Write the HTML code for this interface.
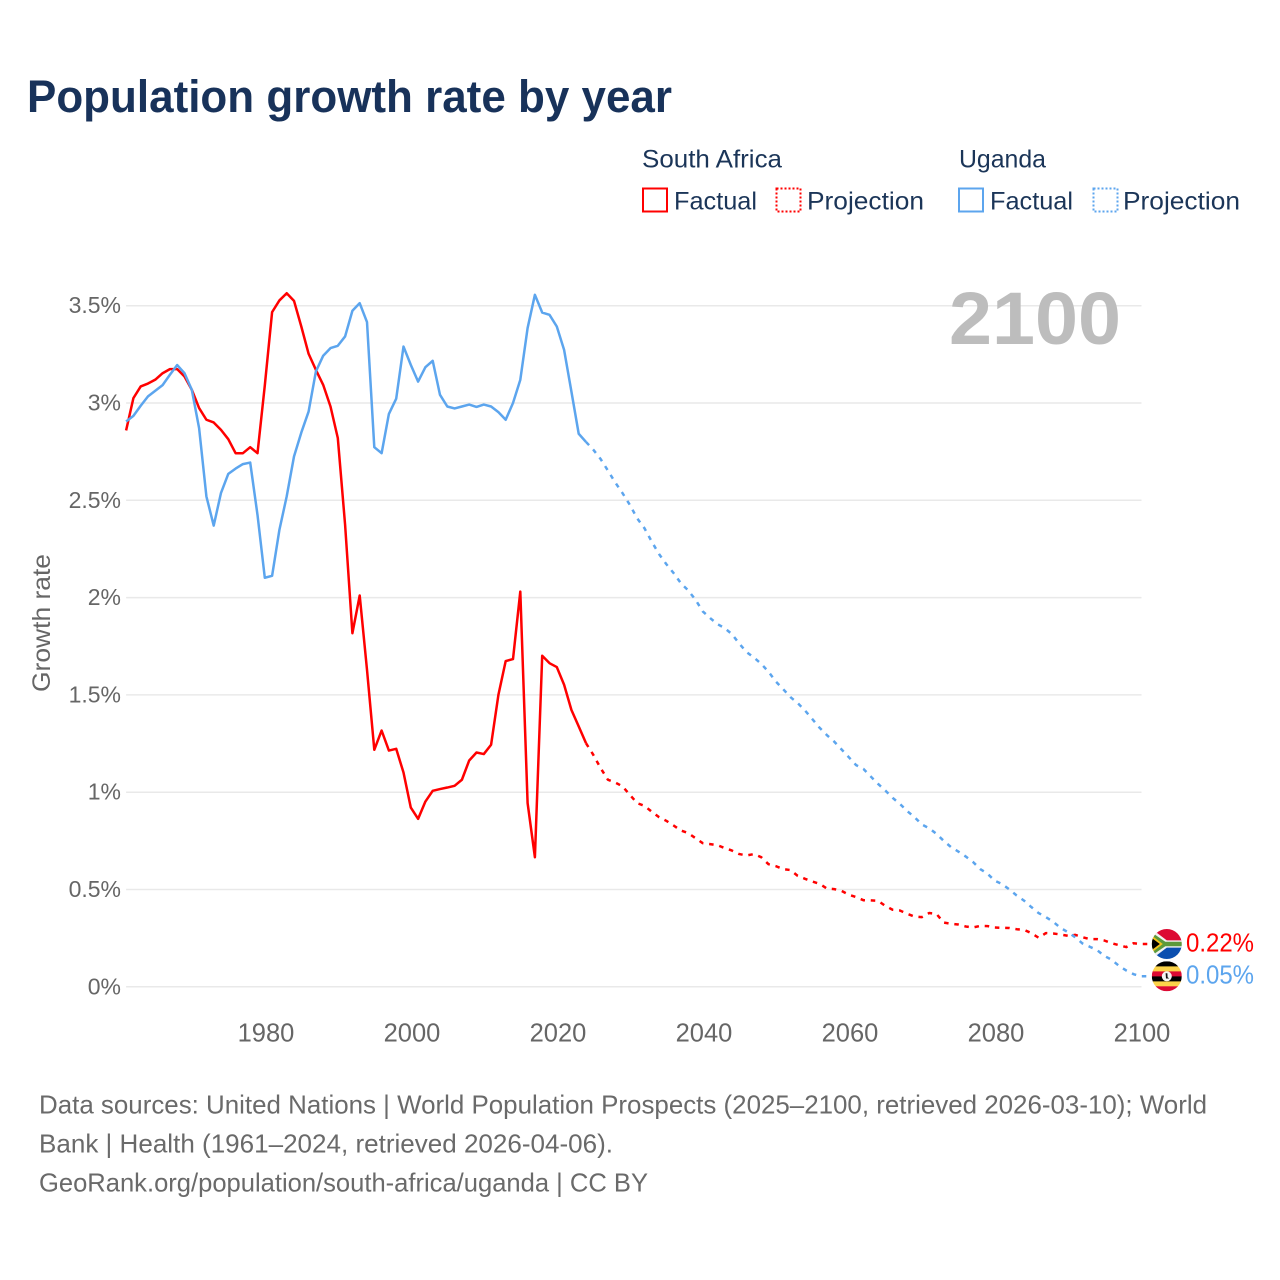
<!DOCTYPE html>
<html lang="en">
<head>
<meta charset="utf-8">
<title>Population growth rate by year</title>
<style>
html,body{margin:0;padding:0;background:#fff;width:1280px;height:1280px;overflow:hidden}
svg{display:block}
text{font-family:"Liberation Sans",sans-serif}
</style>
</head>
<body>
<svg id="chart" xmlns="http://www.w3.org/2000/svg" width="1280" height="1280" viewBox="0 0 1280 1280">
  <defs>
    <clipPath id="clip-sa"><circle cx="0" cy="0" r="15"/></clipPath>
    <clipPath id="clip-ug"><circle cx="0" cy="0" r="15"/></clipPath>
  </defs>

  <text x="27" y="112" font-size="45" font-weight="700" fill="#18325a" textLength="645" lengthAdjust="spacingAndGlyphs">Population growth rate by year</text>

  <g font-size="25" fill="#1b3558">
    <text x="642" y="167.5" textLength="140" lengthAdjust="spacingAndGlyphs">South Africa</text>
    <text x="959" y="167.5" textLength="87" lengthAdjust="spacingAndGlyphs">Uganda</text>
    <rect x="643" y="188.5" width="24" height="23" fill="none" stroke="#ff0000" stroke-width="2"/>
    <text x="674" y="209.5" textLength="83" lengthAdjust="spacingAndGlyphs">Factual</text>
    <rect x="776.5" y="188.5" width="24" height="23" fill="none" stroke="#ff0000" stroke-width="2" stroke-dasharray="2 2"/>
    <text x="807" y="209.5" textLength="117" lengthAdjust="spacingAndGlyphs">Projection</text>
    <rect x="959" y="188.5" width="24" height="23" fill="none" stroke="#5ca5ee" stroke-width="2"/>
    <text x="990" y="209.5" textLength="83" lengthAdjust="spacingAndGlyphs">Factual</text>
    <rect x="1093.5" y="188.5" width="24" height="23" fill="none" stroke="#5ca5ee" stroke-width="2" stroke-dasharray="2 2"/>
    <text x="1123" y="209.5" textLength="117" lengthAdjust="spacingAndGlyphs">Projection</text>
  </g>

  <text transform="translate(50 623) rotate(-90)" text-anchor="middle" font-size="25" fill="#666666" textLength="138" lengthAdjust="spacingAndGlyphs">Growth rate</text>

  <g id="grid"></g>
  <g id="y-ticks"></g>
  <g id="x-ticks"></g>

  <text x="1121" y="344" text-anchor="end" font-size="74" font-weight="700" fill="#bdbdbd" textLength="172" lengthAdjust="spacingAndGlyphs">2100</text>

  <g id="series"></g>

  <g id="flag-sa">
    <g clip-path="url(#clip-sa)">
      <rect x="-15" y="-15" width="30" height="15" fill="#dc0a33"/>
      <rect x="-15" y="0" width="30" height="15" fill="#0b4fb0"/>
      <path d="M-15 -15 L0 -3.6 L15 -3.6 L15 3.6 L0 3.6 L-15 15 Z" fill="#f2f2f2"/>
      <path d="M-15 -11.5 L-1.5 -2.2 L15 -2.2 L15 2.2 L-1.5 2.2 L-15 11.5 Z" fill="#5c9a3a"/>
      <path d="M-15 -8.5 L-4 0 L-15 8.5 Z" fill="#f2c21d"/>
      <path d="M-15 -6 L-7 0 L-15 6 Z" fill="#000"/>
    </g>
  </g>
  <g id="flag-ug">
    <g clip-path="url(#clip-ug)">
      <rect x="-15" y="-15" width="30" height="5.2" fill="#000"/>
      <rect x="-15" y="-9.9" width="30" height="5.1" fill="#fcd34a"/>
      <rect x="-15" y="-4.9" width="30" height="5.1" fill="#dc0a33"/>
      <rect x="-15" y="0.1" width="30" height="5.1" fill="#000"/>
      <rect x="-15" y="5.1" width="30" height="5" fill="#fcd34a"/>
      <rect x="-15" y="10" width="30" height="5" fill="#dc0a33"/>
      <circle cx="0" cy="0" r="5" fill="#f4f4f4"/>
      <path d="M-1.2 -3 L0.6 -3 L0.8 1 L2.4 2.2 L-0.8 2.2 Z" fill="#111"/>
    </g>
  </g>
  <text id="label-sa" x="1186" font-size="25.5" fill="#ff0000" textLength="68" lengthAdjust="spacingAndGlyphs"></text>
  <text id="label-ug" x="1186" font-size="25.5" fill="#5ca5ee" textLength="68" lengthAdjust="spacingAndGlyphs"></text>

  <g font-size="26" fill="#6a6a6a">
    <text x="39" y="1113.5" textLength="1168" lengthAdjust="spacingAndGlyphs">Data sources: United Nations | World Population Prospects (2025–2100, retrieved 2026-03-10); World</text>
    <text x="39" y="1152.5" textLength="574" lengthAdjust="spacingAndGlyphs">Bank | Health (1961–2024, retrieved 2026-04-06).</text>
    <text x="39" y="1191.5" textLength="609" lengthAdjust="spacingAndGlyphs">GeoRank.org/population/south-africa/uganda | CC BY</text>
  </g>
</svg>

<script>
const factualStartYear = 1961;
const projectionStartYear = 2024;
const xTickValues = [1980, 2000, 2020, 2040, 2060, 2080, 2100];
const yTickValues = [0, 0.5, 1, 1.5, 2, 2.5, 3, 3.5];
const yTickLabels = ['0%', '0.5%', '1%', '1.5%', '2%', '2.5%', '3%', '3.5%'];

const southAfricaFactual = [2.859,3.025,3.085,3.10,3.12,3.153,3.174,3.174,3.136,3.068,2.974,2.914,2.90,2.862,2.814,2.742,2.742,2.773,2.742,3.09,3.467,3.527,3.564,3.525,3.393,3.253,3.17,3.093,2.982,2.82,2.374,1.817,2.011,1.629,1.218,1.317,1.214,1.223,1.101,0.921,0.863,0.952,1.007,1.016,1.024,1.033,1.064,1.163,1.204,1.196,1.244,1.50,1.674,1.684,2.031,0.944,0.666,1.701,1.663,1.643,1.552,1.423,1.338,1.252];
const southAfricaProjection = [1.252,1.192,1.124,1.064,1.05,1.03,0.987,0.944,0.93,0.90,0.872,0.853,0.829,0.803,0.79,0.764,0.738,0.733,0.728,0.713,0.70,0.682,0.675,0.682,0.666,0.63,0.62,0.605,0.60,0.57,0.555,0.541,0.529,0.505,0.502,0.493,0.473,0.461,0.445,0.444,0.442,0.416,0.396,0.392,0.375,0.361,0.358,0.379,0.375,0.33,0.324,0.32,0.31,0.305,0.313,0.312,0.305,0.303,0.302,0.296,0.293,0.276,0.252,0.276,0.274,0.269,0.262,0.267,0.255,0.245,0.245,0.238,0.224,0.214,0.204,0.224,0.22];
const ugandaFactual = [2.905,2.934,2.986,3.034,3.063,3.092,3.145,3.195,3.153,3.068,2.871,2.52,2.37,2.538,2.636,2.663,2.686,2.694,2.425,2.102,2.112,2.348,2.52,2.725,2.848,2.956,3.162,3.243,3.282,3.294,3.342,3.474,3.513,3.416,2.773,2.742,2.944,3.022,3.29,3.196,3.11,3.184,3.217,3.042,2.982,2.972,2.982,2.992,2.98,2.992,2.982,2.953,2.914,3.0,3.119,3.385,3.556,3.465,3.453,3.393,3.273,3.059,2.842,2.80];
const ugandaProjection = [2.80,2.76,2.712,2.653,2.592,2.537,2.477,2.408,2.357,2.288,2.224,2.172,2.126,2.074,2.037,1.989,1.929,1.895,1.864,1.843,1.812,1.763,1.72,1.692,1.66,1.619,1.569,1.53,1.489,1.458,1.42,1.376,1.331,1.293,1.26,1.22,1.18,1.139,1.12,1.081,1.043,1.009,0.971,0.94,0.903,0.872,0.834,0.815,0.786,0.75,0.718,0.695,0.67,0.642,0.605,0.581,0.545,0.528,0.50,0.469,0.443,0.41,0.379,0.358,0.334,0.303,0.281,0.255,0.223,0.206,0.189,0.159,0.139,0.108,0.084,0.065,0.054];

const SVGNS = 'http://www.w3.org/2000/svg';
const redColor = '#ff0000';
const blueColor = '#5ca5ee';
const flagX = 1166.8;

function xScale(year) { return 1140.8 + (year - 2100) * 7.3; }
function yScale(value) { return 986.8 - value * 194.6; }

function linePath(startYear, values) {
  return values.map(function (v, i) {
    return (i ? 'L' : 'M') + xScale(startYear + i).toFixed(2) + ' ' + yScale(v).toFixed(2);
  }).join(' ');
}

const gridGroup = document.getElementById('grid');
const yTickGroup = document.getElementById('y-ticks');
yTickValues.forEach(function (v, i) {
  const gridLine = document.createElementNS(SVGNS, 'line');
  
  
  gridLine.setAttribute('x1', xScale(factualStartYear));
  gridLine.setAttribute('x2', xScale(2100) + 0.7);
  gridLine.setAttribute('y1', yScale(v));
  gridLine.setAttribute('y2', yScale(v));
  gridLine.setAttribute('stroke', '#e9e9e9');
  gridLine.setAttribute('stroke-width', '1.5');
  gridGroup.appendChild(gridLine);

  const tick = document.createElementNS(SVGNS, 'text');
  
  
  tick.setAttribute('x', 121);
  tick.setAttribute('y', yScale(v) + 7.5);
  tick.setAttribute('text-anchor', 'end');
  tick.setAttribute('font-size', '23');
  tick.setAttribute('fill', '#666666');
  tick.textContent = yTickLabels[i];
  yTickGroup.appendChild(tick);
});

const xTickGroup = document.getElementById('x-ticks');
xTickValues.forEach(function (year) {
  const tick = document.createElementNS(SVGNS, 'text');
  
  
  tick.setAttribute('x', xScale(year) + 1.2);
  tick.setAttribute('y', 1041.5);
  tick.setAttribute('text-anchor', 'middle');
  tick.setAttribute('font-size', '25.5');
  tick.setAttribute('fill', '#666666');
  tick.textContent = String(year);
  xTickGroup.appendChild(tick);
});

const seriesGroup = document.getElementById('series');
function addLine(name, d, color, dashed) {
  const path = document.createElementNS(SVGNS, 'path');
  
  
  path.setAttribute('d', d);
  path.setAttribute('fill', 'none');
  path.setAttribute('stroke', color);
  path.setAttribute('stroke-width', '2.5');
  path.setAttribute('stroke-linejoin', 'round');
  if (dashed) path.setAttribute('stroke-dasharray', '4.5 5.8');
  seriesGroup.appendChild(path);
}

const saLast = southAfricaProjection[southAfricaProjection.length - 1];
const ugLast = ugandaProjection[ugandaProjection.length - 1];
addLine('south-africa-projection-line', linePath(projectionStartYear, southAfricaProjection) + ' L' + (flagX - 15) + ' ' + yScale(saLast), redColor, true);
addLine('uganda-projection-line', linePath(projectionStartYear, ugandaProjection) + ' L' + (flagX - 15) + ' ' + yScale(ugLast), blueColor, true);
addLine('south-africa-factual-line', linePath(factualStartYear, southAfricaFactual), redColor, false);
addLine('uganda-factual-line', linePath(factualStartYear, ugandaFactual), blueColor, false);

document.getElementById('flag-sa').setAttribute('transform', 'translate(' + flagX + ' ' + yScale(saLast) + ')');
document.getElementById('flag-ug').setAttribute('transform', 'translate(' + flagX + ' ' + yScale(ugLast) + ')');

const labelSa = document.getElementById('label-sa');
labelSa.setAttribute('y', yScale(saLast) + 7.5);
labelSa.textContent = saLast.toFixed(2) + '%';
const labelUg = document.getElementById('label-ug');
labelUg.setAttribute('y', yScale(ugLast) + 7);
labelUg.textContent = ugLast.toFixed(2) + '%';
</script>
</body>
</html>
